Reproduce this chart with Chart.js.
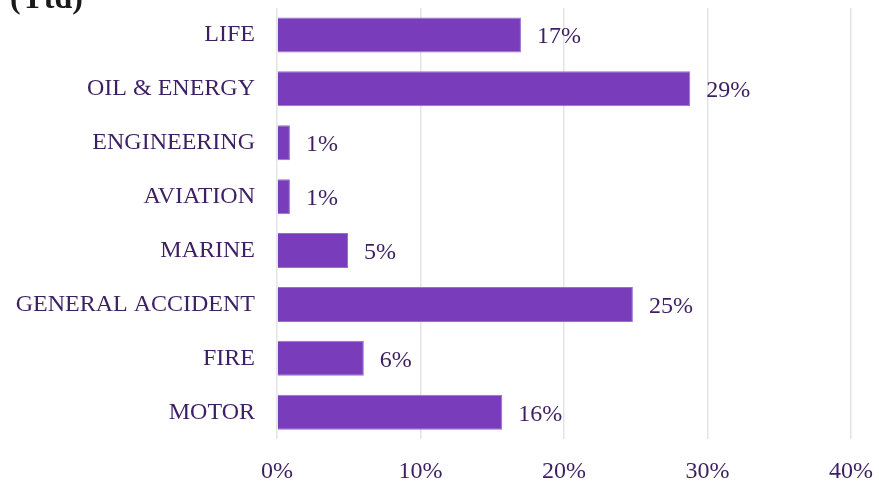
<!DOCTYPE html>
<html>
<head>
<meta charset="utf-8">
<script src="https://cdn.jsdelivr.net/npm/chart.js@4/dist/chart.umd.min.js"></script>
<style>
    html, body { margin: 0; padding: 0; background: #fff; overflow: hidden; }
    #wrap { position: relative; width: 879px; height: 486px; }
    #ytd {
        position: absolute; left: 10px; top: -19px;
        font: bold 32px "Liberation Serif", serif; color: #1a1a1a;
        line-height: 32px;
    }
</style>
</head>
<body>
<div id="wrap">
    <div id="ytd">(Ytd)</div>
    <canvas id="chart" width="879" height="486"></canvas>
</div>
<script>
const categories = ['LIFE', 'OIL & ENERGY', 'ENGINEERING', 'AVIATION', 'MARINE', 'GENERAL ACCIDENT', 'FIRE', 'MOTOR'];
const shares = [17.0, 28.8, 0.9, 0.9, 4.95, 24.8, 6.05, 15.7];
const shareLabels = ['17%', '29%', '1%', '1%', '5%', '25%', '6%', '16%'];
const xTicks = [0, 10, 20, 30, 40];

const textColor = '#3d1f63';
const serif = '"Liberation Serif", "DejaVu Serif", serif';

// draw the % next to each bar end
const barLabels = {
    id: 'barLabels',
    afterDatasetsDraw(chart) {
        const ctx = chart.ctx;
        const meta = chart.getDatasetMeta(0);
        ctx.save();
        ctx.fillStyle = textColor;
        ctx.font = '24px ' + serif;
        ctx.textAlign = 'left';
        ctx.textBaseline = 'middle';
        meta.data.forEach((bar, i) => {
            ctx.fillText(shareLabels[i], bar.x + 16, bar.y + 2);
        });
        ctx.restore();
    }
};

new Chart(document.getElementById('chart').getContext('2d'), {
    type: 'bar',
    data: {
        labels: categories,
        datasets: [{
            data: shares,
            backgroundColor: '#793cbb',
            borderColor: '#9a6cd2',
            borderWidth: 1,
            barPercentage: 0.65,
            categoryPercentage: 1
        }]
    },
    options: {
        indexAxis: 'y',
        responsive: false,
        animation: false,
        layout: { padding: { top: 8, right: 28, left: 0, bottom: -18 } },
        plugins: {
            legend: { display: false },
            tooltip: { enabled: false }
        },
        scales: {
            x: {
                min: 0,
                max: 40,
                afterBuildTicks: axis => { axis.ticks = xTicks.map(v => ({ value: v })); },
                afterFit: axis => {
                    axis.paddingLeft = 0;
                    axis.paddingRight = 0;
                },
                border: { display: false },
                grid: { color: '#e4e4e4', lineWidth: 1.5, drawTicks: false },
                ticks: {
                    padding: 18,
                    color: textColor,
                    font: { family: serif, size: 24 },
                    callback: v => v + '%'
                }
            },
            y: {
                border: { display: false },
                grid: { display: false, drawTicks: false },
                // fixed label column, and no label padding eating vertical space
                afterFit: axis => {
                    axis.width = 277;
                    axis.paddingTop = 0;
                    axis.paddingBottom = 0;
                },
                ticks: {
                    padding: 22,
                    color: textColor,
                    font: { family: serif, size: 24 }
                }
            }
        }
    },
    plugins: [barLabels]
});
</script>
</body>
</html>
